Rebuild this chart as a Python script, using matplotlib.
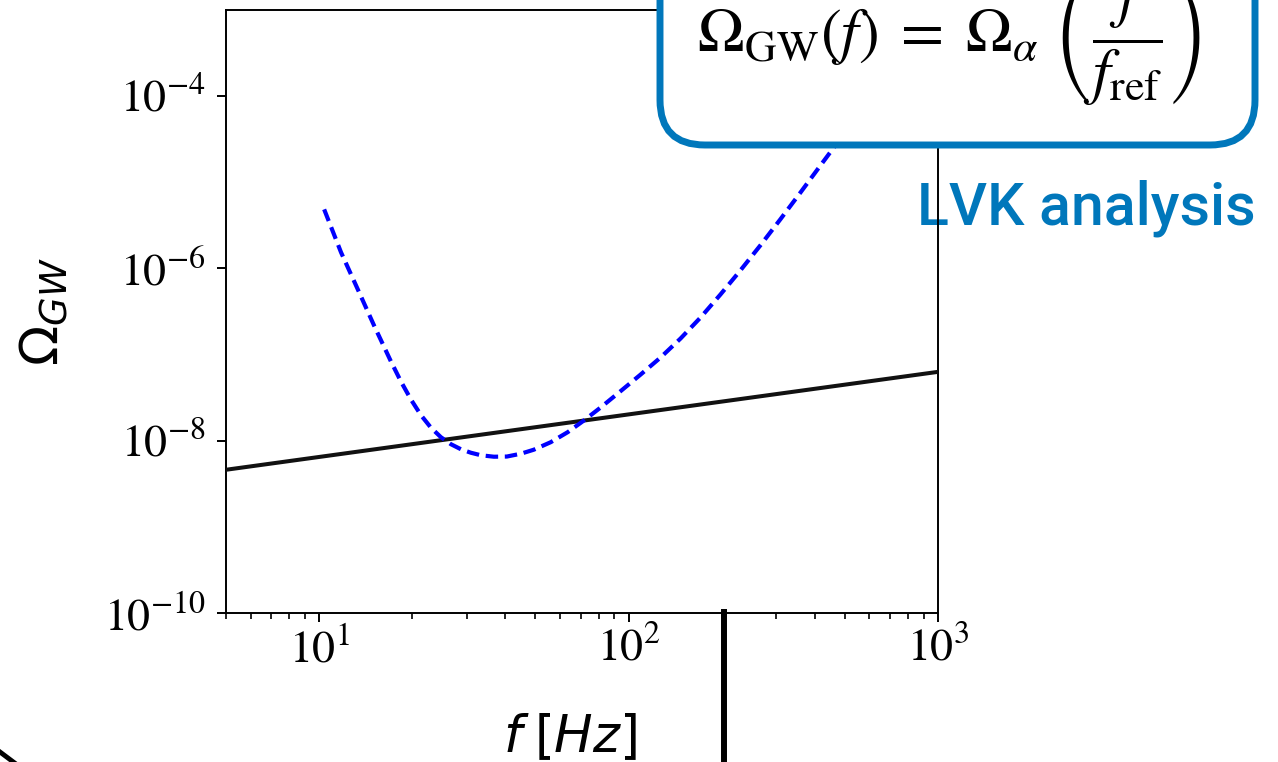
import matplotlib
matplotlib.use('Agg')
import matplotlib.pyplot as plt
from matplotlib.patches import FancyBboxPatch
from matplotlib.lines import Line2D
from matplotlib.transforms import IdentityTransform
from matplotlib.ticker import NullLocator, NullFormatter

plt.rcParams['mathtext.fontset'] = 'stix'
plt.rcParams['font.family'] = 'STIXGeneral'

# background from compact binaries (straight power law)
f_cbc = [5, 1000]
omega_cbc = [4.6e-9, 6.3e-8]

# sensitivity curve (dashed)
f_sens = [10.38, 11.77, 13.36, 15.05, 17.07, 18.39, 19.81, 21.33, 22.98, 24.75,
          26.66, 28.72, 30.93, 33.32, 36.70, 40.42, 44.84, 49.38, 56.03, 63.57,
          71.58, 81.22, 94.23, 109.3, 126.8, 147.2, 170.8, 198.1, 229.8, 266.6,
          309.3, 358.8, 416.3, 458.5, 603.7, 942.0]
omega_sens = [4.85e-6, 1.535e-6, 5.62e-7, 2.17e-7, 8.29e-8, 4.85e-8, 3.00e-8,
              1.98e-8, 1.416e-8, 1.098e-8, 9.11e-9, 7.96e-9, 7.25e-9, 6.78e-9,
              6.52e-9, 6.55e-9, 7.06e-9, 7.86e-9, 9.61e-9, 1.256e-8, 1.708e-8,
              2.43e-8, 3.76e-8, 5.85e-8, 9.23e-8, 1.535e-7, 2.69e-7, 4.98e-7,
              9.48e-7, 1.851e-6, 3.71e-6, 7.55e-6, 1.555e-5, 2.48e-5, 9.48e-5,
              8.3e-4]

xticks = [10, 100, 1000]
xticklabels = [r'$\mathrm{10^{1}}$', r'$\mathrm{10^{2}}$', r'$\mathrm{10^{3}}$']
yticks = [1e-10, 1e-8, 1e-6, 1e-4]
yticklabels = [r'$\mathrm{10^{-10}}$', r'$\mathrm{10^{-8}}$',
               r'$\mathrm{10^{-6}}$', r'$\mathrm{10^{-4}}$']

BLUE_SLIDE = '#0077bb'

fig = plt.figure(figsize=(12.78, 7.62), dpi=100)
ax = fig.add_axes([226/1278, 1 - 613/762, 712/1278, 603/762])
ax.set_facecolor('none')

ax.plot(f_cbc, omega_cbc, color='#111111', lw=2.9, zorder=3)
ax.plot(f_sens, omega_sens, color='#0000ff', lw=3.0, ls=(0, (3.0, 1.6)), zorder=3)

ax.set_xscale('log')
ax.set_yscale('log')
ax.set_xlim(5, 1000)
ax.set_ylim(1e-10, 1e-3)

ax.set_xticks(xticks)
ax.set_xticklabels(xticklabels, fontsize=33)
ax.xaxis.set_minor_formatter(NullFormatter())
ax.set_yticks(yticks)
ax.set_yticklabels(yticklabels, fontsize=33)
ax.yaxis.set_minor_locator(NullLocator())

ax.tick_params(which='major', length=6.8, width=1.4)
ax.tick_params(which='minor', length=4.3, width=1.2)
ax.tick_params(axis='x', pad=4)
ax.tick_params(axis='y', pad=8)
for s in ax.spines.values():
    s.set_linewidth(1.4)

ax.set_xlabel(r'$f\;[Hz]$', fontsize=37, math_fontfamily='dejavusans')
ax.xaxis.set_label_coords(0.483, -0.164)
ax.set_ylabel(r'$\Omega_{GW}$', fontsize=38, math_fontfamily='dejavusans')
ax.yaxis.set_label_coords(-0.216, 0.5)

# slide overlay: rounded box with the power-law formula
box = FancyBboxPatch((660, 617), 595, 260,
                     boxstyle='round,pad=0,rounding_size=45',
                     transform=IdentityTransform(), facecolor='white',
                     edgecolor=BLUE_SLIDE, lw=5, zorder=10)
fig.patches.append(box)
fig.text(697/1278, 1 - 53/762,
         r'$\Omega_{\rm GW}(f)\;=\;\Omega_\alpha\;\left(\dfrac{f}{f_{\rm ref}}\right)$',
         fontsize=45, ha='left', va='baseline', zorder=11)

fig.text(917/1278, 1 - 225/762, 'LVK analysis', fontsize=42.5,
         family='Roboto', weight='medium', color=BLUE_SLIDE,
         ha='left', va='baseline', zorder=-1)

fig.lines.append(Line2D([724, 724], [150, -5], color='black', lw=4.3,
                        transform=IdentityTransform(), zorder=12))
fig.lines.append(Line2D([0, 16], [10, -2], color='black', lw=3.5,
                        transform=IdentityTransform(), zorder=12))

fig.savefig('out.png', dpi=100)
